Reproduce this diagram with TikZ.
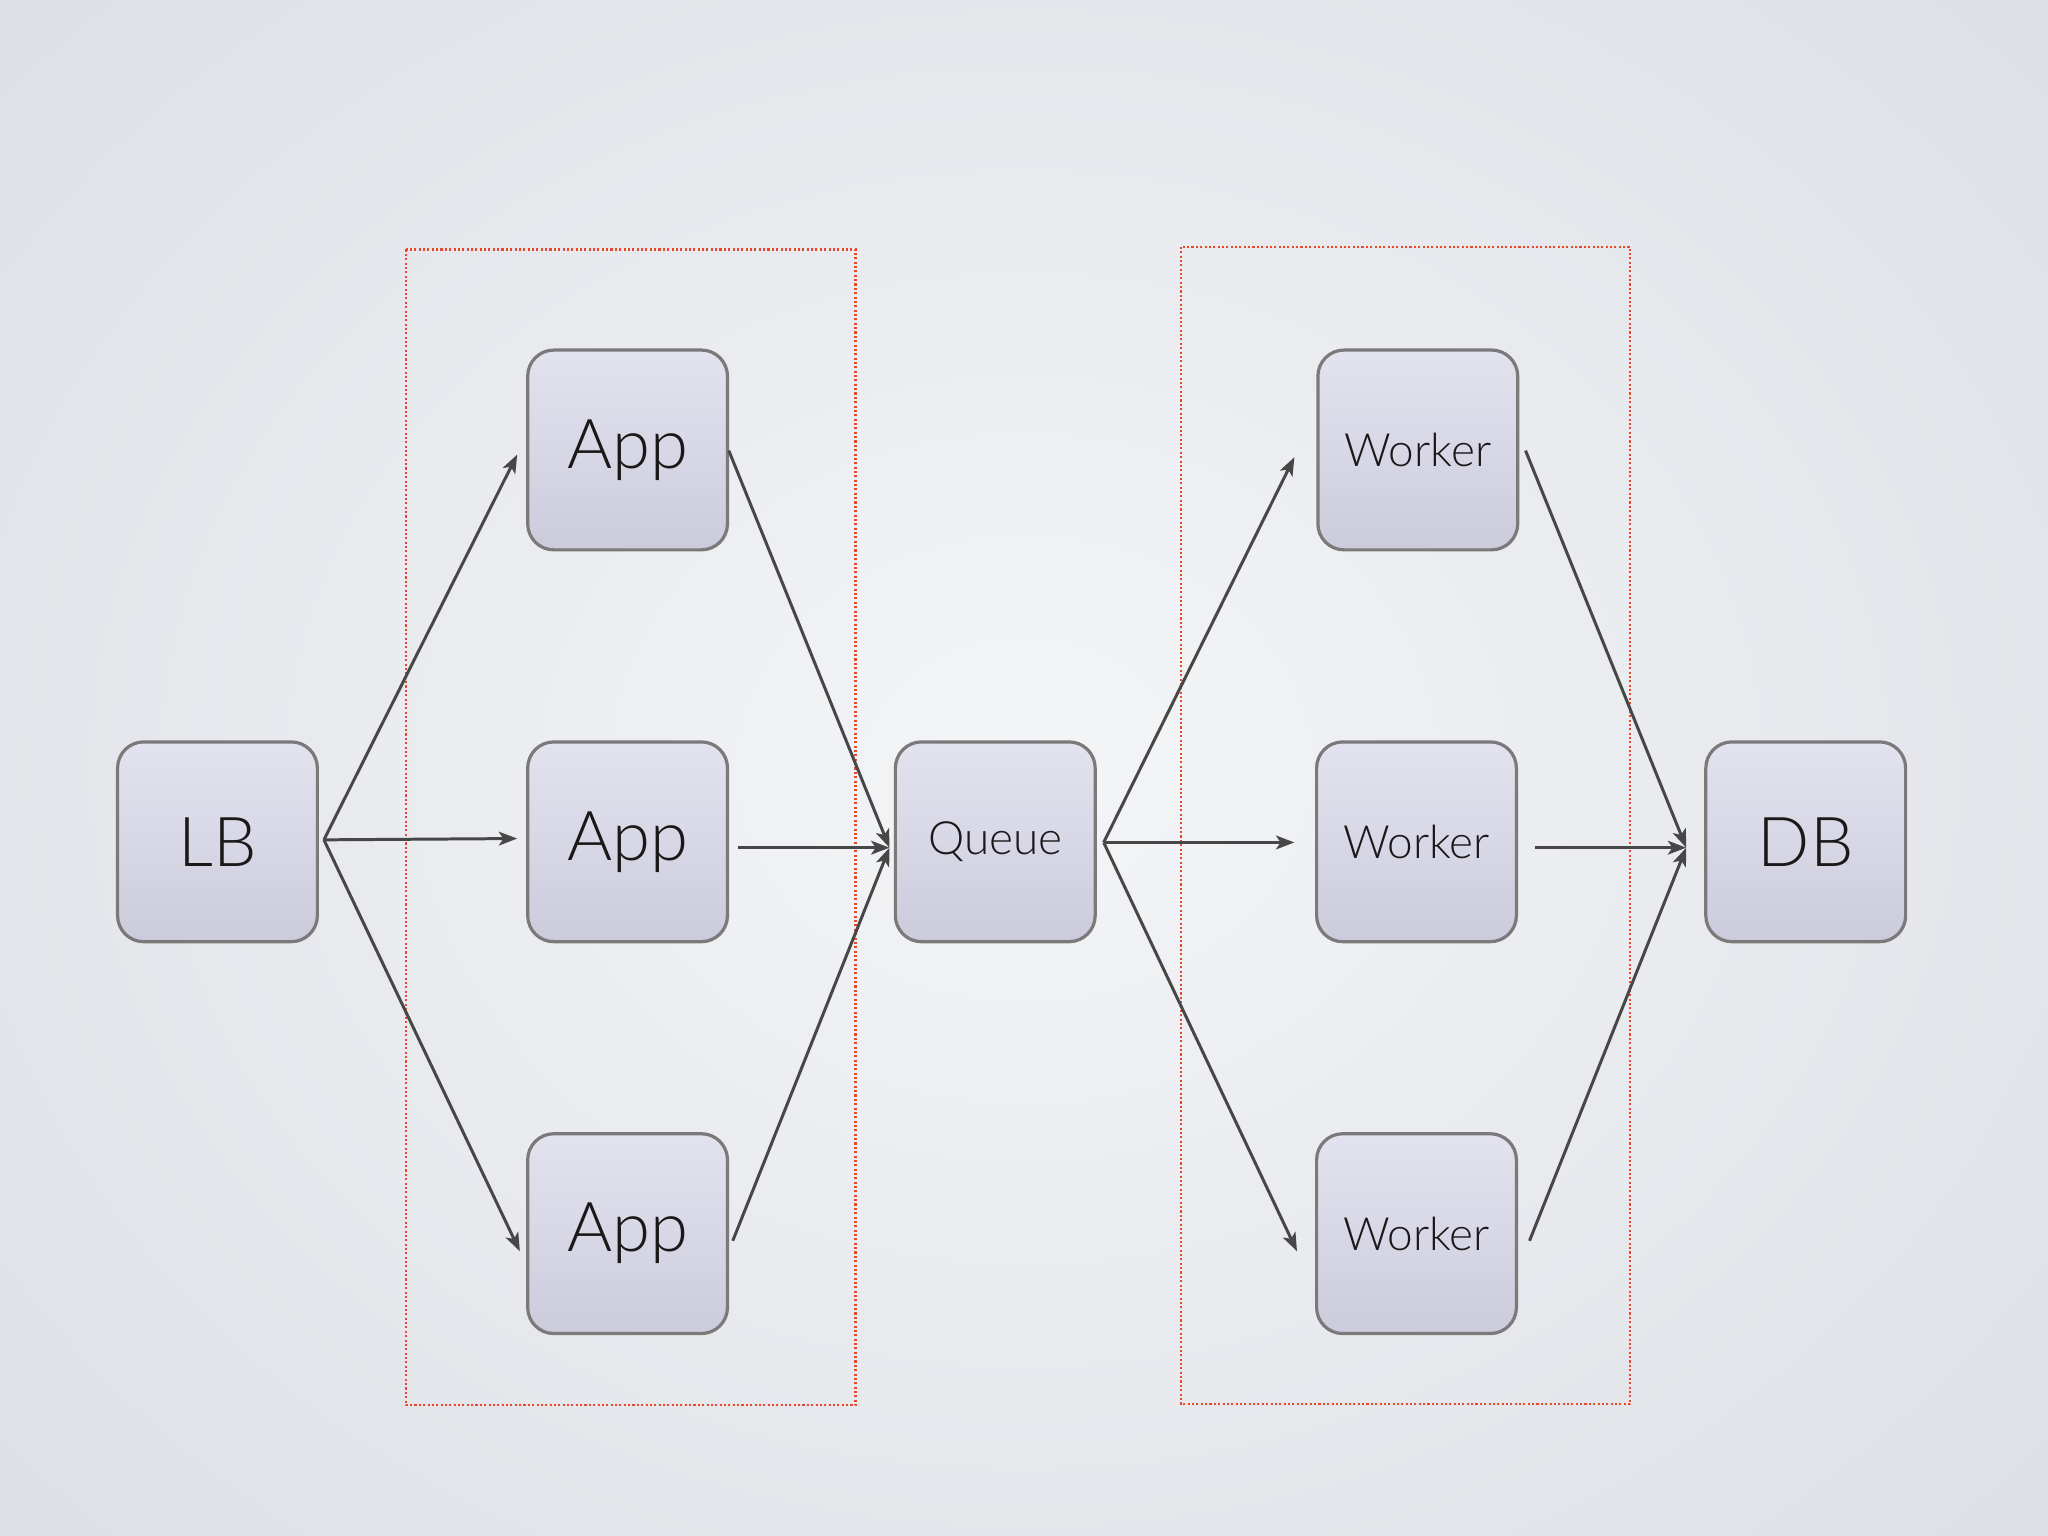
\documentclass[tikz,border=0pt]{standalone}
\usepackage{fontspec}
\setmainfont{Lato Light}[BoldFont=Lato]
\usetikzlibrary{arrows.meta}
\begin{document}
\begin{tikzpicture}[x=0.02cm,y=-0.02cm,
  box/.style={draw=black!52,line width=1.4pt,rounded corners=0.4cm,minimum width=3.06cm,minimum height=3.06cm,top color=boxtop,bottom color=boxbot,inner sep=0pt,text=black!90},
  big/.style={font=\fontsize{30}{34}\selectfont},
  small/.style={font=\fontsize{20}{24}\selectfont},
  arr/.style={draw=black!72,line width=1.3pt,-{Stealth[length=8pt,width=6pt,inset=2pt]}},
  grp/.style={draw=grpred,densely dotted,line width=0.9pt}]
\definecolor{boxtop}{HTML}{E3E3EF}
\definecolor{boxbot}{HTML}{CBCBDC}
\definecolor{bgin}{HTML}{F4F5F7}
\definecolor{bgout}{HTML}{DEE0E6}
\definecolor{grpred}{HTML}{E8482A}
\useasboundingbox (0,0) rectangle (1568,1176);
\begin{scope}
\clip (0,0) rectangle (1568,1176);
\fill[bgout] (0,0) rectangle (1568,1176);
\shade[inner color=bgin,outer color=bgout] (-250,-250) rectangle (1818,1426);
\end{scope}
\draw[grp] (311,191) rectangle (655,1076);
\draw[grp] (904,189) rectangle (1248,1075);
\node[box,big] (lb) at (166.5,644.5) {LB};
\node[box,big] (a1) at (480.5,344.5) {App};
\node[box,big] (a2) at (480.5,644.5) {App};
\node[box,big] (a3) at (480.5,944.5) {App};
\node[box,small] (q) at (762,644.5) {Queue};
\node[box,small] (w1) at (1085.5,344.5) {Worker};
\node[box,small] (w2) at (1084.5,644.5) {Worker};
\node[box,small] (w3) at (1084.5,944.5) {Worker};
\node[box,big] (db) at (1382.5,644.5) {DB};
\coordinate (lbo) at (248,643);
\coordinate (a1i) at (396,348); \coordinate (a2i) at (396,642); \coordinate (a3i) at (398,958);
\coordinate (a1o) at (558,345); \coordinate (a2o) at (565,649); \coordinate (a3o) at (561,950);
\coordinate (qi) at (681,649); \coordinate (qo) at (845,645);
\coordinate (w1i) at (991,350); \coordinate (w2i) at (991,645); \coordinate (w3i) at (993,958);
\coordinate (w1o) at (1168,345); \coordinate (w2o) at (1175,649); \coordinate (w3o) at (1171,950);
\coordinate (dbi) at (1291,649);
\foreach \t in {a1i,a2i,a3i} \draw[arr] (lbo) -- (\t);
\foreach \s in {a1o,a2o,a3o} \draw[arr] (\s) -- (qi);
\foreach \t in {w1i,w2i,w3i} \draw[arr] (qo) -- (\t);
\foreach \s in {w1o,w2o,w3o} \draw[arr] (\s) -- (dbi);
\end{tikzpicture}
\end{document}
